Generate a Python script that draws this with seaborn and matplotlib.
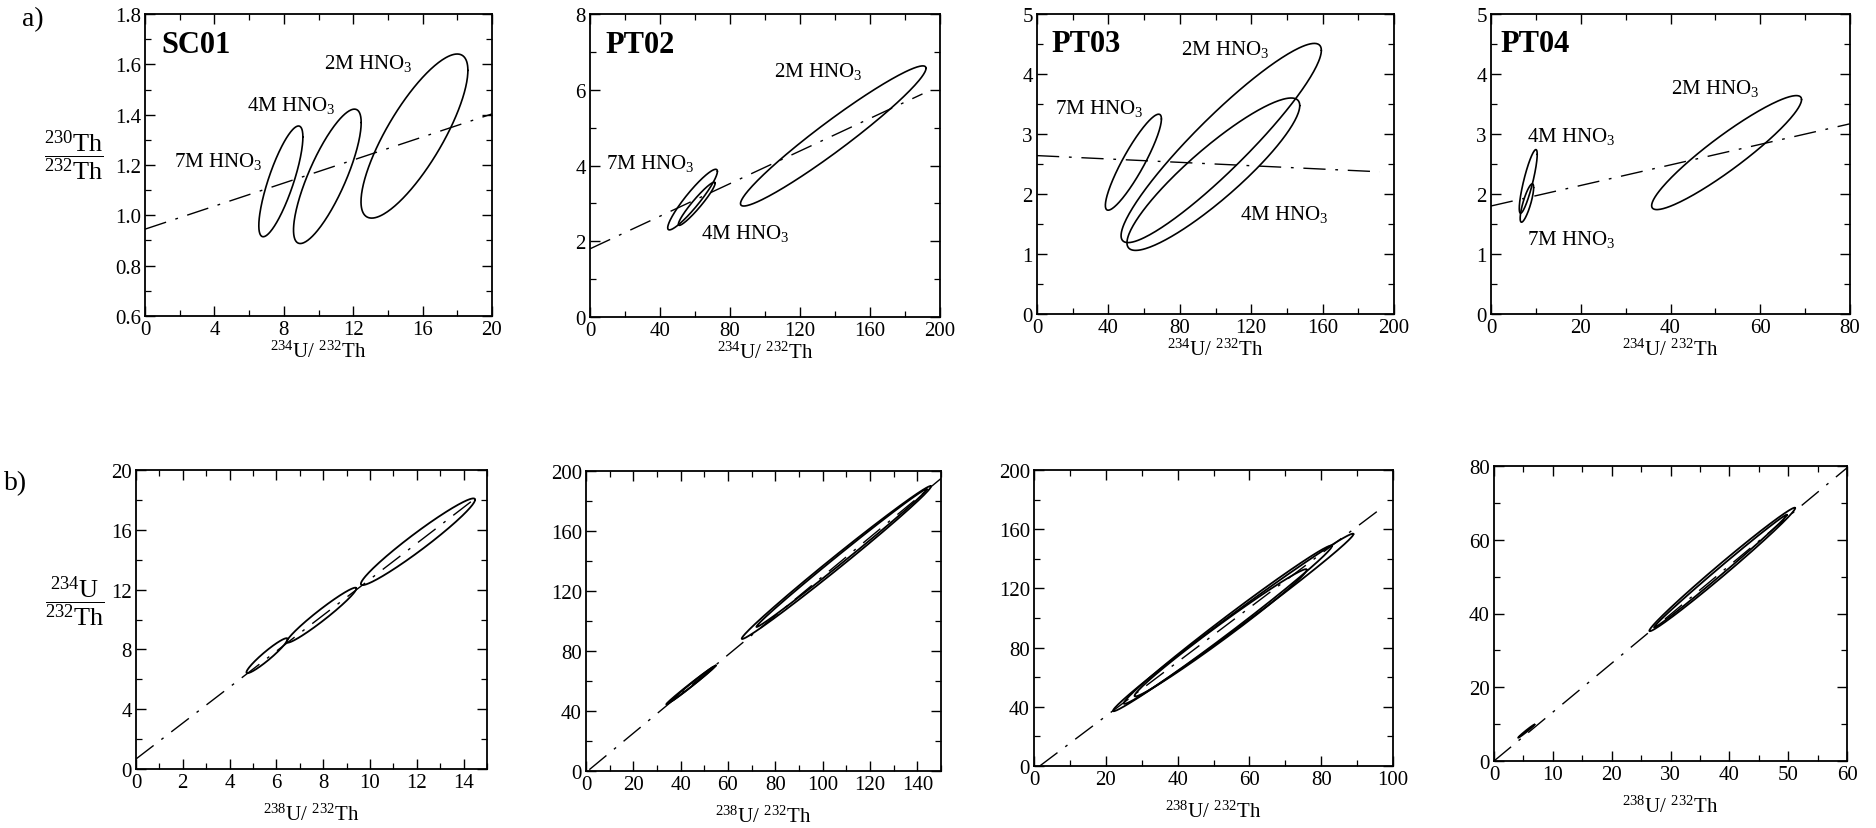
import numpy as np
import pandas as pd
import matplotlib
matplotlib.use("Agg")
import matplotlib.pyplot as plt
from matplotlib.ticker import MultipleLocator, FormatStrFormatter
import seaborn as sns

# ---------------- data ----------------
acids = ["7M HNO$_3$", "4M HNO$_3$", "2M HNO$_3$"]

# row a) 230Th/232Th vs 234U/232Th  (ellipse: centre, half-widths, correlation)
sc01_cx = [7.83, 10.51, 15.53]; sc01_cy = [1.135, 1.155, 1.315]
sc01_sx = [1.27, 1.95, 3.08];   sc01_sy = [0.22, 0.267, 0.326]
sc01_rho = [0.80, 0.80, 0.80]
sc01_line_x = [0, 20];          sc01_line_y = [0.945, 1.403]

pt02_cx = [58.6, 61.0, 139.0];  pt02_cy = [3.10, 2.99, 4.78]
pt02_sx = [14.2, 10.5, 53.0];   pt02_sy = [0.80, 0.57, 1.85]
pt02_rho = [0.93, 0.95, 0.965]
pt02_line_x = [0, 190];         pt02_line_y = [1.80, 5.89]

pt03_cx = [54.0, 98.8, 103.2];  pt03_cy = [2.53, 2.33, 2.85]
pt03_sx = [15.7, 48.4, 56.1];   pt03_sy = [0.80, 1.27, 1.66]
pt03_rho = [0.90, 0.90, 0.93]
pt03_line_x = [0, 192];         pt03_line_y = [2.64, 2.37]

pt04_cx = [8.0, 8.3, 52.5];     pt04_cy = [1.85, 2.21, 2.69]
pt04_sx = [1.5, 2.0, 16.7];     pt04_sy = [0.32, 0.53, 0.95]
pt04_rho = [0.80, 0.85, 0.93]
pt04_line_x = [0, 80];          pt04_line_y = [1.80, 3.17]

# row b) 234U/232Th vs 238U/232Th
b_sc01_cx = [5.6, 7.93, 12.05];  b_sc01_cy = [7.58, 10.29, 15.2]
b_sc01_sx = [0.88, 1.49, 2.44];  b_sc01_sy = [1.17, 1.84, 2.9]
b_sc01_rho = [0.95, 0.97, 0.97]
b_sc01_line_x = [0, 14.5];       b_sc01_line_y = [0.67, 18.1]

b_pt02_cx = [44.4, 45.0, 105.8, 108.0]; b_pt02_cy = [57.4, 58.0, 139.0, 142.0]
b_pt02_sx = [10.5, 9.0, 40.0, 36.0];    b_pt02_sy = [13.0, 11.5, 51.0, 46.0]
b_pt02_rho = [0.995, 0.995, 0.995, 0.997]
b_pt02_line_x = [1.4, 150];      b_pt02_line_y = [0.9, 195]

b_pt03_cx = [55.5, 54.0, 52.0];  b_pt03_cy = [97.0, 95.5, 90.0]
b_pt03_sx = [33.5, 29.0, 24.0];  b_pt03_sy = [60.0, 53.5, 43.0]
b_pt03_rho = [0.995, 0.993, 0.99]
b_pt03_line_x = [1.6, 97];       b_pt03_line_y = [0, 174.6]

b_pt04_cx = [5.5, 38.8, 38.5];   b_pt04_cy = [8.1, 51.95, 51.5]
b_pt04_sx = [1.4, 12.4, 11.3];   b_pt04_sy = [1.8, 16.75, 15.3]
b_pt04_rho = [0.99, 0.993, 0.997]
b_pt04_line_x = [0, 60];         b_pt04_line_y = [0, 79.5]

sample_names = ["SC01", "PT02", "PT03", "PT04"]

# ---------------- style ----------------
sns.set_theme(style="ticks")
plt.rcParams["font.family"] = ["Liberation Serif", "DejaVu Serif"]
plt.rcParams["mathtext.fontset"] = "custom"
plt.rcParams["mathtext.rm"] = "Liberation Serif"
plt.rcParams["mathtext.it"] = "Liberation Serif:italic"
plt.rcParams["mathtext.bf"] = "Liberation Serif:bold"

W, H = 1876, 829
fig = plt.figure(figsize=(W / 100, H / 100), dpi=100)
fig.patch.set_facecolor("white")

def rect(l, r, t, b):
    return [l / W, 1 - b / H, (r - l) / W, (b - t) / H]

DASH = (0, (16, 7, 2, 7))

def ellipse_frame(cx, cy, sx, sy, rho, n=240):
    t = np.linspace(0, 2 * np.pi, n)
    return pd.DataFrame({
        "x": cx + sx * np.cos(t),
        "y": cy + sy * (rho * np.cos(t) + np.sqrt(1 - rho ** 2) * np.sin(t)),
    })

def draw_panel(ax, cxs, cys, sxs, sys_, rhos, lx, ly, xlim, ylim, xmaj, xmin, ymaj, ymin, yfmt, xlabel, lw=1.2):
    sns.lineplot(x=lx, y=ly, ax=ax, color="black", lw=1.0, linestyle=DASH, sort=False, estimator=None)
    for cx, cy, sx, sy, r in zip(cxs, cys, sxs, sys_, rhos):
        df = ellipse_frame(cx, cy, sx, sy, r)
        sns.lineplot(data=df, x="x", y="y", ax=ax, color="black", lw=lw, sort=False, estimator=None)
    ax.set_xlim(*xlim); ax.set_ylim(*ylim)
    ax.xaxis.set_major_locator(MultipleLocator(xmaj)); ax.xaxis.set_minor_locator(MultipleLocator(xmin))
    ax.yaxis.set_major_locator(MultipleLocator(ymaj)); ax.yaxis.set_minor_locator(MultipleLocator(ymin))
    ax.xaxis.set_major_formatter(FormatStrFormatter("%d"))
    ax.yaxis.set_major_formatter(FormatStrFormatter(yfmt))
    ax.tick_params(which="both", direction="in", top=True, right=True, colors="black", labelsize=15, pad=3)
    ax.tick_params(which="major", length=7, width=1.0)
    ax.tick_params(which="minor", length=4, width=0.9)
    for s in ax.spines.values():
        s.set_color("black"); s.set_linewidth(1.3)
    ax.set_xlabel(xlabel, fontsize=15, color="black", labelpad=1)
    ax.set_ylabel("")
    ax.set_facecolor("white")

xa = r"$^{234}$U/ $^{232}$Th"
xb = r"$^{238}$U/ $^{232}$Th"

a_rects = [rect(145, 492, 15, 317), rect(590, 940, 15, 318), rect(1037, 1394, 15, 315), rect(1491, 1850, 15, 315)]
b_rects = [rect(136, 487, 471, 770), rect(586, 941, 472, 772), rect(1034, 1393, 471, 767), rect(1494, 1847, 467, 762)]

a_data = [
    (sc01_cx, sc01_cy, sc01_sx, sc01_sy, sc01_rho, sc01_line_x, sc01_line_y, (0, 20), (0.6, 1.8), 4, 2, 0.2, 0.1, "%.1f"),
    (pt02_cx, pt02_cy, pt02_sx, pt02_sy, pt02_rho, pt02_line_x, pt02_line_y, (0, 200), (0, 8), 40, 20, 2, 1, "%d"),
    (pt03_cx, pt03_cy, pt03_sx, pt03_sy, pt03_rho, pt03_line_x, pt03_line_y, (0, 200), (0, 5), 40, 20, 1, 0.5, "%d"),
    (pt04_cx, pt04_cy, pt04_sx, pt04_sy, pt04_rho, pt04_line_x, pt04_line_y, (0, 80), (0, 5), 20, 10, 1, 0.5, "%d"),
]
b_data = [
    (b_sc01_cx, b_sc01_cy, b_sc01_sx, b_sc01_sy, b_sc01_rho, b_sc01_line_x, b_sc01_line_y, (0, 15), (0, 20), 2, 1, 4, 2, "%d"),
    (b_pt02_cx, b_pt02_cy, b_pt02_sx, b_pt02_sy, b_pt02_rho, b_pt02_line_x, b_pt02_line_y, (0, 150), (0, 200), 20, 10, 40, 20, "%d"),
    (b_pt03_cx, b_pt03_cy, b_pt03_sx, b_pt03_sy, b_pt03_rho, b_pt03_line_x, b_pt03_line_y, (0, 100), (0, 200), 20, 10, 40, 20, "%d"),
    (b_pt04_cx, b_pt04_cy, b_pt04_sx, b_pt04_sy, b_pt04_rho, b_pt04_line_x, b_pt04_line_y, (0, 60), (0, 80), 10, 5, 20, 10, "%d"),
]

# label placement (data coords, left edge / vertical centre): order 7M, 4M, 2M
name_pos = [(0.92, 1.68), (8.6, 7.2), (8, 4.5), (2.1, 4.5)]
acid_pos = [
    [(1.7, 1.217), (5.9, 1.44), (10.3, 1.608)],
    [(9, 4.09), (63.4, 2.24), (105, 6.5)],
    [(9.9, 3.44), (114, 1.67), (80.6, 4.42)],
    [(8, 1.25), (8, 2.97), (40, 3.78)],
]

axes_a = []
for i, (r, d) in enumerate(zip(a_rects, a_data)):
    ax = fig.add_axes(r)
    draw_panel(ax, *d, xlabel=xa)
    ax.text(*name_pos[i], sample_names[i], fontsize=22, fontweight="bold", ha="left", va="center", color="black")
    for lab, p in zip(acids, acid_pos[i]):
        ax.text(*p, lab, fontsize=15, ha="left", va="center", color="black")
    axes_a.append(ax)

axes_b = []
for r, d in zip(b_rects, b_data):
    ax = fig.add_axes(r)
    draw_panel(ax, *d, xlabel=xb, lw=1.3)
    ax.xaxis.labelpad = 8
    axes_b.append(ax)

# stacked y-axis labels
axes_a[0].text(-0.205, 0.53, r"$\dfrac{{}^{230}\mathrm{Th}}{{}^{232}\mathrm{Th}}$", transform=axes_a[0].transAxes,
               ha="center", va="center", fontsize=19, color="black")
axes_b[0].text(-0.175, 0.56, r"$\dfrac{{}^{234}\mathrm{U}}{{}^{232}\mathrm{Th}}$", transform=axes_b[0].transAxes,
               ha="center", va="center", fontsize=19, color="black")

fig.text(22 / W, 1 - 20 / H, "a)", fontsize=20, ha="left", va="center", color="black")
fig.text(4 / W, 1 - 484 / H, "b)", fontsize=20, ha="left", va="center", color="black")

fig.savefig("out.png", dpi=100, facecolor="white")
